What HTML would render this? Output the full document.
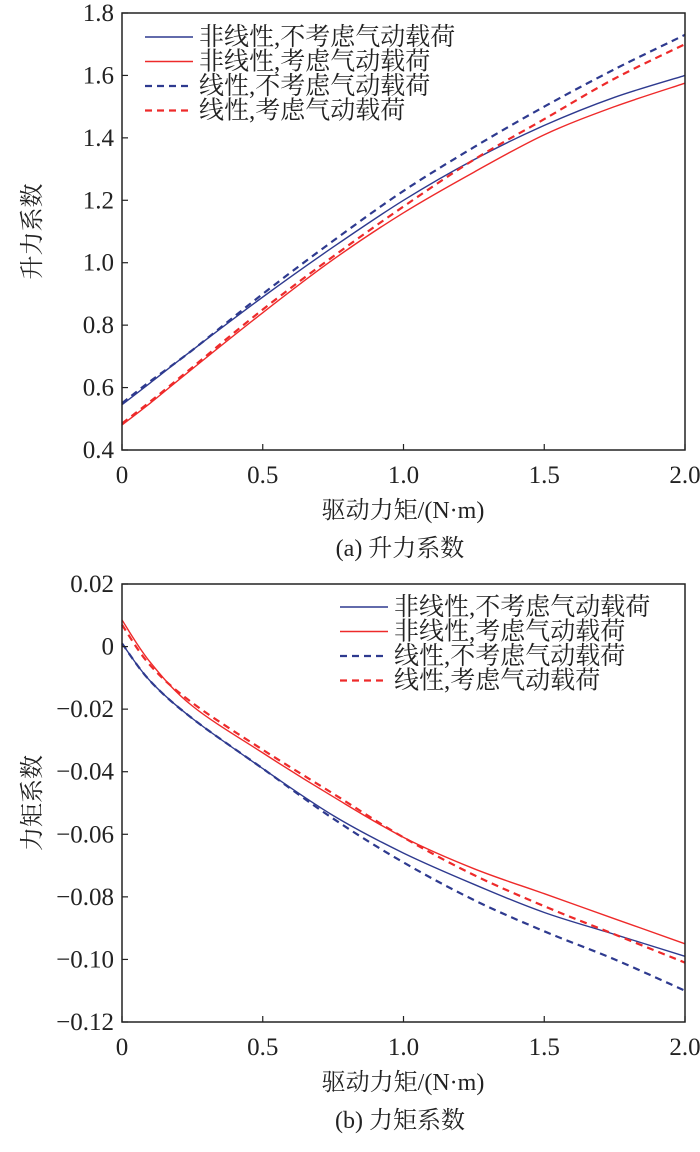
<!DOCTYPE html>
<html><head><meta charset="utf-8"><style>
body{margin:0;background:#fff}
svg text{font-family:"Liberation Serif","Noto Serif CJK SC","Noto Sans CJK SC",serif;fill:#222}
</style></head><body>
<svg id="c" width="700" height="1147" xmlns="http://www.w3.org/2000/svg"></svg>
<script>
const xs=[0,0.1,0.25,0.5,0.75,1.0,1.25,1.5,1.75,2.0];
const liftNLNo=[0.545,0.615,0.72,0.89,1.05,1.20,1.33,1.44,1.53,1.60];
const liftNLAero=[0.48,0.55,0.66,0.84,1.01,1.16,1.29,1.41,1.50,1.575];
const liftLNo=[0.55,0.62,0.72,0.90,1.07,1.23,1.37,1.50,1.62,1.73];
const liftLAero=[0.485,0.555,0.665,0.85,1.02,1.18,1.33,1.46,1.59,1.70];
const momNLNo=[0.001,-0.011,-0.023,-0.039,-0.054,-0.066,-0.076,-0.085,-0.092,-0.099];
const momNLAero=[0.0085,-0.005,-0.019,-0.034,-0.048,-0.061,-0.071,-0.079,-0.087,-0.095];
const momLNo=[0.001,-0.011,-0.023,-0.039,-0.055,-0.069,-0.081,-0.091,-0.100,-0.110];
const momLAero=[0.007,-0.006,-0.018,-0.033,-0.047,-0.061,-0.073,-0.083,-0.092,-0.101];
const xTicks=["0","0.5","1.0","1.5","2.0"];
const xTickVals=[0,0.5,1,1.5,2];
const liftTicks=["0.4","0.6","0.8","1.0","1.2","1.4","1.6","1.8"];
const liftTickVals=[0.4,0.6,0.8,1.0,1.2,1.4,1.6,1.8];
const momTicks=["−0.12","−0.10","−0.08","−0.06","−0.04","−0.02","0","0.02"];
const momTickVals=[-0.12,-0.10,-0.08,-0.06,-0.04,-0.02,0,0.02];
const legendLabels=["非线性,不考虑气动载荷","非线性,考虑气动载荷","线性,不考虑气动载荷","线性,考虑气动载荷"];
const BLUE="#2e3a8f",RED="#ee2a2a";
const svg=document.getElementById('c');
const NS="http://www.w3.org/2000/svg";
function mk(t,a,p){const e=document.createElementNS(NS,t);for(const k in a)e.setAttribute(k,a[k]);(p||svg).appendChild(e);return e;}
function smooth(pts){
  let d='M'+pts[0][0].toFixed(1)+','+pts[0][1].toFixed(1);
  for(let i=0;i<pts.length-1;i++){
    const p0=pts[Math.max(0,i-1)],p1=pts[i],p2=pts[i+1],p3=pts[Math.min(pts.length-1,i+2)];
    const c1=[p1[0]+(p2[0]-p0[0])/6,p1[1]+(p2[1]-p0[1])/6];
    const c2=[p2[0]-(p3[0]-p1[0])/6,p2[1]-(p3[1]-p1[1])/6];
    d+='C'+c1.map(v=>v.toFixed(1)).join(',')+' '+c2.map(v=>v.toFixed(1)).join(',')+' '+p2.map(v=>v.toFixed(1)).join(',');
  }
  return d;
}
function panel(id,top,bot,ymin,ymax,tl,tv,series,leg,cap,ytitle){
  const L=122,R=685;
  const g=mk('g',{});
  
  
  const X=v=>L+(v-0)/(2-0)*(R-L);
  const Y=v=>bot-(v-ymin)/(ymax-ymin)*(bot-top);
  series.forEach((s,i)=>{
    const p=mk('path',{d:smooth(xs.map((x,j)=>[X(x),Y(s.d[j])])),fill:'none',stroke:s.c,'stroke-width':s.dash?2.2:1.4,'stroke-dasharray':s.dash?'7,5':'none'},g);
    
    
  });
  const ax=mk('rect',{x:L,y:top,width:R-L,height:bot-top,fill:'none',stroke:'#222','stroke-width':1.5},g);
  
  
  tv.forEach((v,i)=>{
    mk('line',{x1:L,x2:L+6,y1:Y(v),y2:Y(v),stroke:'#222','stroke-width':1.2},g);
    const t=mk('text',{x:L-8,y:Y(v)+8,'text-anchor':'end','font-size':25},g);t.textContent=tl[i];
    
    
  });
  xTickVals.forEach((v,i)=>{
    mk('line',{x1:X(v),x2:X(v),y1:bot,y2:bot-6,stroke:'#222','stroke-width':1.2},g);
    const t=mk('text',{x:X(v),y:bot+33,'text-anchor':'middle','font-size':25},g);t.textContent=xTicks[i];
    
    
  });
  legendLabels.forEach((lb,i)=>{
    const y=leg.y+i*24.5;
    mk('line',{x1:leg.x,x2:leg.x+48,y1:y,y2:y,stroke:series[i].c,'stroke-width':series[i].dash?2.2:1.4,'stroke-dasharray':series[i].dash?'7,5':'none'},g);
    const t=mk('text',{x:leg.x+54,y:y+8,'font-size':25},g);t.textContent=lb;
    
    
  });
  const xt=mk('text',{x:403,y:bot+68,'text-anchor':'middle','font-size':24},g);xt.textContent="驱动力矩/(N·m)";
  
  
  const ct=mk('text',{x:400,y:bot+106,'text-anchor':'middle','font-size':24},g);ct.textContent=cap;
  
  
  const cy=(top+bot)/2;
  const yt=mk('text',{x:32,y:cy,'text-anchor':'middle','font-size':24,transform:`rotate(-90 32 ${cy})`,dy:8},g);yt.textContent=ytitle;
  
  
}
panel('lift-chart',13,450,0.4,1.8,liftTicks,liftTickVals,[
 {d:liftNLNo,c:BLUE},{d:liftNLAero,c:RED},{d:liftLNo,c:BLUE,dash:1},{d:liftLAero,c:RED,dash:1}],
 {x:145,y:37},'(a) 升力系数','升力系数');
panel('moment-chart',584,1022,-0.12,0.02,momTicks,momTickVals,[
 {d:momNLNo,c:BLUE},{d:momNLAero,c:RED},{d:momLNo,c:BLUE,dash:1},{d:momLAero,c:RED,dash:1}],
 {x:340,y:607},'(b) 力矩系数','力矩系数');
</script>
</body></html>
